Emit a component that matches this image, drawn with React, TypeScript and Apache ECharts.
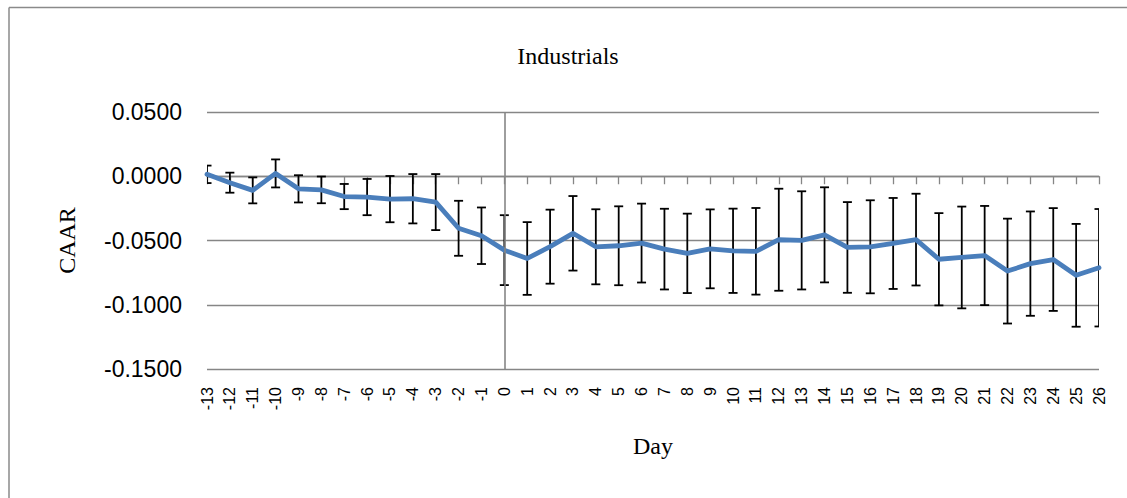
import React, { useEffect, useRef } from "react";
import * as echarts from "echarts";

const days: string[] = [
  "-13", "-12", "-11", "-10", "-9", "-8", "-7", "-6", "-5", "-4", "-3", "-2", "-1",
  "0", "1", "2", "3", "4", "5", "6", "7", "8", "9", "10", "11", "12", "13", "14",
  "15", "16", "17", "18", "19", "20", "21", "22", "23", "24", "25", "26",
];

const caar: number[] = [
  0.0015, -0.005, -0.011, 0.0022, -0.0098, -0.0106, -0.0158, -0.0162, -0.0178, -0.0175,
  -0.0201, -0.0405, -0.0463, -0.0575, -0.064, -0.0548, -0.0444, -0.0549, -0.0541, -0.052,
  -0.0567, -0.06, -0.0565, -0.058, -0.0584, -0.0494, -0.0499, -0.0456, -0.0554, -0.0549,
  -0.0523, -0.0493, -0.0646, -0.0632, -0.0617, -0.0738, -0.068, -0.0648, -0.0771, -0.0712,
];

const errors: number[] = [
  0.0068, 0.0078, 0.0101, 0.0109, 0.0106, 0.0104, 0.0098, 0.0141, 0.018, 0.0192,
  0.0218, 0.0214, 0.022, 0.0272, 0.0283, 0.0288, 0.029, 0.0292, 0.0307, 0.0307,
  0.0314, 0.0309, 0.0307, 0.0328, 0.0337, 0.0397, 0.0382, 0.037, 0.0353, 0.0362,
  0.0354, 0.0357, 0.0359, 0.0396, 0.0386, 0.0408, 0.0406, 0.04, 0.04, 0.0457,
];

const yTicks = { min: -0.15, max: 0.05, interval: 0.05 };

const title = "Industrials";
const xName = "Day";
const yName = "CAAR";

export default function App() {
  const ref = useRef<HTMLDivElement>(null);

  useEffect(() => {
    if (!ref.current) return;
    const chart = echarts.init(ref.current, undefined, { renderer: "svg" });
    const errData = caar.map((v, i) => [i, v - errors[i], v + errors[i]]);
    const zeroIndex = days.indexOf("0");
    const gray = "#868686";
    const borderStyle = { stroke: "#8a8a8a", lineWidth: 1.5 };

    chart.setOption({
      animation: false,
      backgroundColor: "#ffffff",
      grid: { left: 207, right: 28, top: 112, bottom: 129, containLabel: false },
      graphic: [
        {
          type: "line",
          silent: true,
          shape: { x1: 9, y1: 7.5, x2: 1127, y2: 7.5 },
          style: borderStyle,
        },
        {
          type: "line",
          silent: true,
          shape: { x1: 9, y1: 7.5, x2: 9, y2: 498 },
          style: borderStyle,
        },
        {
          type: "text",
          x: 568,
          y: 56,
          style: {
            text: title,
            font: "24px 'Liberation Serif'",
            fill: "#000",
            textAlign: "center",
            textVerticalAlign: "middle",
          },
        },
      ],
      xAxis: [
        {
          type: "category",
          data: days,
          boundaryGap: false,
          position: "bottom",
          axisLine: { show: false, onZero: false },
          axisTick: { show: false },
          splitLine: { show: false },
          axisLabel: {
            interval: 0,
            rotate: 90,
            margin: 18,
            fontSize: 16,
            fontFamily: "Liberation Sans",
            color: "#000",
          },
          name: xName,
          nameLocation: "middle",
          nameGap: 65,
          nameTextStyle: { fontFamily: "Liberation Serif", fontSize: 24, color: "#000" },
        },
        {
          type: "category",
          data: days,
          boundaryGap: false,
          position: "top",
          axisLine: { show: true, onZero: true, lineStyle: { color: gray, width: 1.3 } },
          axisTick: { show: true, inside: true, length: 8, interval: 0, lineStyle: { color: gray, width: 1.3 } },
          axisLabel: { show: false },
          splitLine: { show: false },
        },
      ],
      yAxis: {
        type: "value",
        min: yTicks.min,
        max: yTicks.max,
        interval: yTicks.interval,
        axisLine: { show: false },
        axisTick: { show: false },
        splitLine: { show: true, lineStyle: { color: gray, width: 1.3 } },
        axisLabel: {
          margin: 25,
          fontSize: 23,
          fontFamily: "Liberation Sans",
          color: "#000",
          formatter: (v: number) => (Math.abs(v) < 1e-9 ? "0.0000" : v.toFixed(4)),
        },
        name: yName,
        nameLocation: "middle",
        nameGap: 128,
        nameRotate: 90,
        nameTextStyle: { fontFamily: "Liberation Serif", fontSize: 24, color: "#000" },
      },
      series: [
        {
          type: "line",
          xAxisIndex: 0,
          data: [],
          z: 1,
          silent: true,
          markLine: {
            silent: true,
            symbol: ["none", "none"],
            label: { show: false },
            lineStyle: { color: gray, width: 1.6, type: "solid" },
            data: [{ xAxis: zeroIndex }],
          },
        },
        {
          type: "custom",
          xAxisIndex: 0,
          z: 2,
          clip: true,
          silent: true,
          data: errData,
          encode: { x: 0, y: [1, 2] },
          renderItem: (params: any, api: any) => {
            const i = api.value(0);
            const lo = api.coord([i, api.value(1)]);
            const hi = api.coord([i, api.value(2)]);
            const half = 4.5;
            const style = { stroke: "#000", lineWidth: 1.8 };
            return {
              type: "group",
              children: [
                { type: "line", shape: { x1: hi[0], y1: hi[1], x2: lo[0], y2: lo[1] }, style },
                { type: "line", shape: { x1: hi[0] - half, y1: hi[1], x2: hi[0] + half, y2: hi[1] }, style },
                { type: "line", shape: { x1: lo[0] - half, y1: lo[1], x2: lo[0] + half, y2: lo[1] }, style },
              ],
            };
          },
        },
        {
          type: "line",
          xAxisIndex: 0,
          data: caar,
          z: 3,
          symbol: "none",
          clip: true,
          lineStyle: { color: "#4a7ebb", width: 4.8, join: "round", cap: "round" },
        },
      ],
    });

    return () => chart.dispose();
  }, []);

  return (
    <div
      ref={ref}
      style={{ position: "absolute", left: 0, top: 0, width: 1127, height: 498 }}
    />
  );
}
